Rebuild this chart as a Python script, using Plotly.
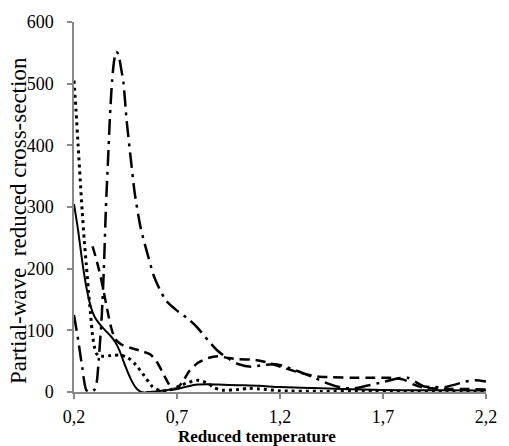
import plotly.graph_objects as go

# ---- data ----
x_solid = [0.20, 0.22, 0.24, 0.26, 0.28, 0.30, 0.32, 0.34, 0.36, 0.38, 0.40, 0.42, 0.44, 0.46,
           0.48, 0.50, 0.52, 0.54, 0.56, 0.60, 0.65, 0.70, 0.75, 0.80, 0.85, 0.90, 1.00, 1.10,
           1.20, 1.40, 1.60, 1.80, 2.00, 2.20]
y_solid = [305, 262, 212, 170, 140, 122, 112, 104, 97, 90, 81, 68, 50, 33,
           18, 7, 1, -1, 0, 1, 3, 5, 9, 12, 12.5, 12, 11, 10,
           8, 6, 4, 3, 3, 2.5]

x_dot = [0.20, 0.21, 0.22, 0.23, 0.24, 0.25, 0.26, 0.27, 0.28, 0.29, 0.30, 0.31, 0.32, 0.34,
         0.38, 0.42, 0.46, 0.50, 0.54, 0.58, 0.62, 0.66, 0.70, 0.75, 0.80, 0.85, 0.88, 0.92,
         1.00, 1.05, 1.10, 1.20, 1.40, 1.60, 1.80, 2.00, 2.20]
y_dot = [505, 455, 400, 345, 292, 245, 205, 165, 128, 92, 72, 62, 58, 58,
         59, 60, 56, 44, 27, 9, 2, 3, 8, 15, 19, 14, 7, 3,
         4, 6, 5, 2, 1, 1, 1, 1, 1]

x_dash = [0.29, 0.30, 0.32, 0.34, 0.36, 0.38, 0.40, 0.43, 0.48, 0.53, 0.57, 0.60, 0.63, 0.66,
          0.68, 0.70, 0.73, 0.76, 0.80, 0.85, 0.90, 0.95, 1.00, 1.08, 1.15, 1.22, 1.30, 1.38,
          1.45, 1.55, 1.65, 1.73, 1.80, 1.85, 1.90, 2.00, 2.10, 2.20]
y_dash = [236, 225, 200, 170, 136, 105, 86, 77, 71, 66, 61, 50, 32, 13,
          6, 6, 18, 34, 47, 55, 58, 55, 53, 52, 47, 39, 31, 25,
          24, 23, 23, 23, 20, 12, 7, 5, 5, 4]

x_dashdot = [0.20, 0.22, 0.24, 0.26, 0.28, 0.30, 0.31, 0.32, 0.335, 0.345, 0.355, 0.365, 0.375,
             0.385, 0.395, 0.405, 0.415, 0.43, 0.44, 0.455, 0.475, 0.495, 0.525, 0.56, 0.59,
             0.645, 0.70, 0.76, 0.80, 0.85, 0.90, 0.95, 1.00, 1.06, 1.12, 1.18, 1.22, 1.30,
             1.36, 1.43, 1.50, 1.56, 1.62, 1.70, 1.77, 1.82, 1.86, 1.90, 1.95, 2.00, 2.05,
             2.10, 2.15, 2.20]
y_dashdot = [125, 85, 40, 3, 0, 4, 15, 52, 125, 200, 300, 375, 450,
             505, 538, 552, 548, 522, 502, 442, 380, 322, 264, 220, 186,
             149, 132, 117, 104, 84, 66, 54, 45, 41, 44, 45, 42, 32,
             24, 14, 7, 6, 10, 16, 22, 23, 16, 9, 8, 8, 12,
             17, 19, 17]

x_tickvals = [0.2, 0.7, 1.2, 1.7, 2.2]
x_ticktext = ["0,2", "0,7", "1,2", "1,7", "2,2"]
y_tickvals = [0, 100, 200, 300, 400, 500, 600]

FONT = "Times New Roman, Liberation Serif, serif"

fig = go.Figure()
fig.add_trace(go.Scatter(x=x_solid, y=y_solid, mode="lines",
                         line=dict(color="black", width=2, shape="spline", smoothing=0.7)))
fig.add_trace(go.Scatter(x=x_dot, y=y_dot, mode="lines",
                         line=dict(color="black", width=3, dash="3px,4px", shape="spline", smoothing=0.7)))
fig.add_trace(go.Scatter(x=x_dash, y=y_dash, mode="lines",
                         line=dict(color="black", width=2.5, dash="10px,6px", shape="spline", smoothing=0.7)))
fig.add_trace(go.Scatter(x=x_dashdot, y=y_dashdot, mode="lines",
                         line=dict(color="black", width=2.5, dash="16px,6px,3px,6px", shape="spline", smoothing=0.7)))

fig.update_layout(
    width=509, height=446,
    margin=dict(l=74, r=12, t=21, b=54),
    paper_bgcolor="white", plot_bgcolor="white",
    showlegend=False,
    font=dict(family=FONT, size=18, color="black"),
    xaxis=dict(range=[0.2, 2.2], tickvals=x_tickvals, ticktext=x_ticktext,
               showgrid=False, zeroline=False, showline=True, linecolor="#888888", linewidth=1.5,
               ticks="outside", ticklen=5, tickcolor="#888888", tickwidth=1.5,
               ticklabelstandoff=3, tickfont=dict(family=FONT, size=18)),
    yaxis=dict(range=[0, 600], tickvals=y_tickvals,
               showgrid=False, zeroline=False, showline=True, linecolor="#888888", linewidth=1.5,
               ticks="outside", ticklen=5, tickcolor="#888888", tickwidth=1.5,
               ticklabelstandoff=10, tickfont=dict(family=FONT, size=18)),
    annotations=[
        dict(text="<b>Reduced temperature</b>", xref="paper", yref="paper",
             x=(262 - 74) / 423, y=-(437 - 392) / 371, xanchor="center", yanchor="middle",
             showarrow=False, font=dict(family=FONT, size=17)),
        dict(text="Partial-wave  reduced cross-section", xref="paper", yref="paper",
             x=-(74 - 17) / 423, y=(392 - 220) / 371, xanchor="center", yanchor="middle",
             textangle=-90, showarrow=False, font=dict(family=FONT, size=23)),
    ],
)

fig.write_html("out.html", config={"displayModeBar": False},
               post_script="document.body.style.margin='0';")
